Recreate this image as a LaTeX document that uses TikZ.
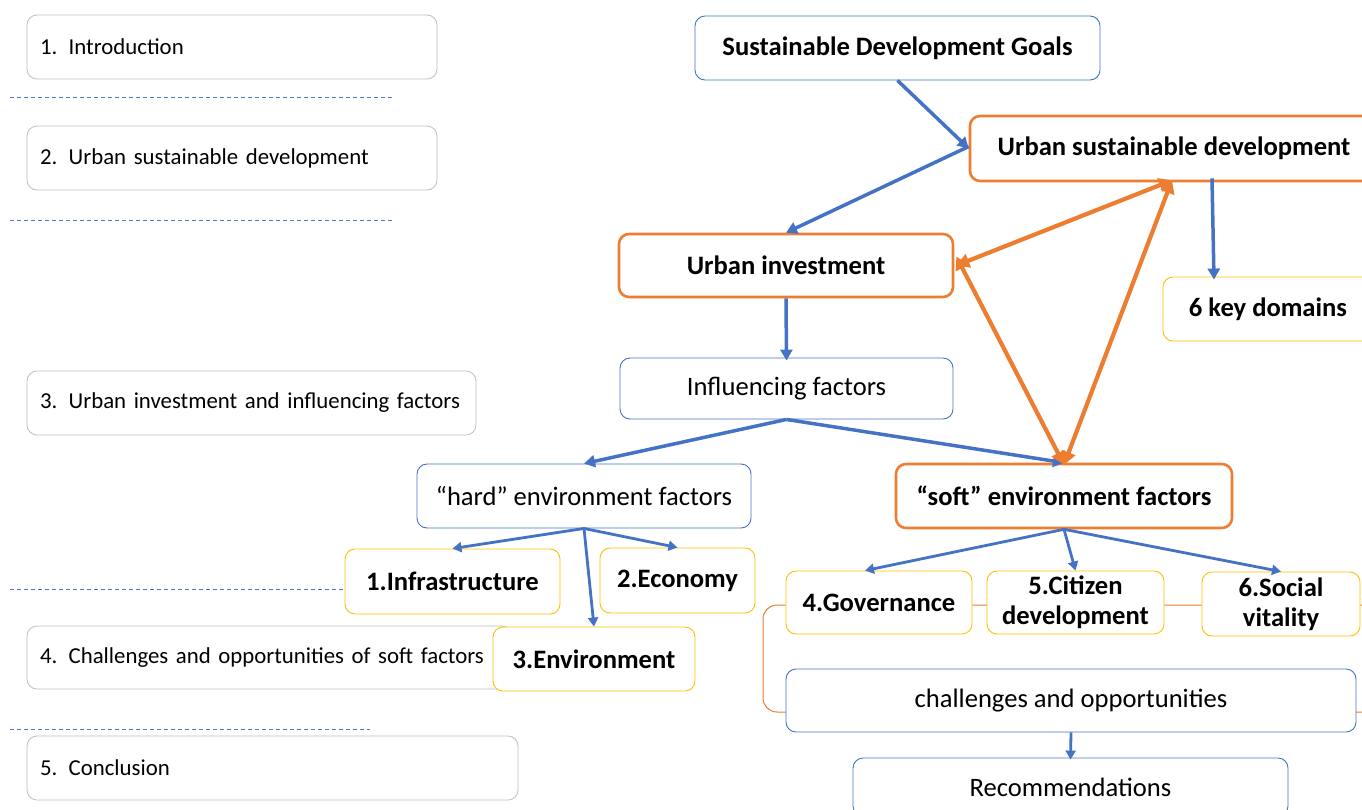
\documentclass[tikz,border=0pt]{standalone}
\usepackage{fontspec}
\setmainfont{Carlito}
\usetikzlibrary{arrows.meta}
\definecolor{cblue}{HTML}{4472C4}
\definecolor{corange}{HTML}{ED7D31}
\definecolor{cyellow}{HTML}{FFC000}
\definecolor{cgray}{HTML}{BFBFBF}
\definecolor{cdash}{HTML}{4F79C6}
\tikzset{
  base/.style={rounded corners=10pt, align=center, inner sep=0pt, fill=white, text=black},
  leftbox/.style={base, draw=cgray, line width=0.8pt, align=left, font=\fontsize{22.8}{26}\selectfont},
  bluebox/.style={base, draw=cblue, line width=0.9pt, font=\fontsize{26.6}{30}\selectfont},
  bluebold/.style={base, draw=cblue, line width=0.9pt, font=\fontsize{26.6}{30}\selectfont\bfseries},
  orangebox/.style={base, draw=corange, line width=2.6pt, font=\fontsize{26.6}{30}\selectfont\bfseries},
  yellowbox/.style={base, draw=cyellow, line width=0.9pt, font=\fontsize{26.6}{30}\selectfont\bfseries},
  sepline/.style={cdash, line width=1pt, dash pattern=on 4pt off 3pt},
  barrow/.style={cblue, line width=3.5pt, -{Triangle[length=11pt,width=12pt]}},
  carrow/.style={cblue, line width=2.8pt, -{Triangle[length=9pt,width=10pt]}},
  oarrow/.style={corange, line width=4.2pt, {Triangle[length=13pt,width=14pt]}-{Triangle[length=13pt,width=14pt]}},
}
\begin{document}
\begin{tikzpicture}[x=1pt,y=-1pt]
\useasboundingbox (0,0) rectangle (1362,809);
% left column
\node[leftbox, minimum width=410, minimum height=64, text width=384] (l1) at (232,47) {1. Introduction};
\node[leftbox, minimum width=410, minimum height=64, text width=384] (l2) at (232,158) {2. Urban sustainable development};
\node[leftbox, minimum width=449, minimum height=64, text width=423] (l3) at (251.5,403) {3. Urban investment and influencing factors};
\node[leftbox, minimum width=485, minimum height=63, text width=459] (l4) at (269.5,657.5) {4. Challenges and opportunities of soft factors};
\node[leftbox, minimum width=491, minimum height=64, text width=465] (l5) at (272.5,768) {5. Conclusion};
\draw[sepline] (10,97) -- (395,97);
\draw[sepline] (10,220) -- (395,220);
\draw[sepline] (10,589) -- (395,589);
\draw[sepline] (10,729) -- (370,729);
% orange bracket behind soft sub-factors
\draw[corange, line width=1pt, rounded corners=14pt] (763,605) rectangle (1390,712);
% right column
\node[bluebold, minimum width=405, minimum height=64] (sdg) at (897.5,48) {Sustainable Development Goals};
\node[orangebox, minimum width=408, minimum height=65] (usd) at (1174,148.5) {Urban sustainable development};
\node[yellowbox, minimum width=210, minimum height=64] (keys) at (1268,309) {6 key domains};
\node[orangebox, minimum width=334, minimum height=63] (ui) at (786,265.5) {Urban investment};
\node[bluebox, minimum width=333, minimum height=61] (inf) at (786.5,388.5) {Influencing factors};
\node[bluebox, minimum width=334, minimum height=64] (hard) at (584,496) {“hard” environment factors};
\node[orangebox, minimum width=336, minimum height=64] (soft) at (1064,496) {“soft” environment factors};
\node[yellowbox, minimum width=215, minimum height=65] (infra) at (452.5,581.5) {1.Infrastructure};
\node[yellowbox, minimum width=155, minimum height=65] (econ) at (677.5,580.5) {2.Economy};
\node[yellowbox, minimum width=202, minimum height=64] (env) at (594,659) {3.Environment};
\node[yellowbox, minimum width=186, minimum height=63] (gov) at (879,602.5) {4.Governance};
\node[yellowbox, minimum width=177, minimum height=63] (cit) at (1075.5,602.5) {5.Citizen\\development};
\node[yellowbox, minimum width=158, minimum height=64] (soc) at (1281,604) {6.Social\\vitality};
\node[bluebox, minimum width=570, minimum height=63] (chal) at (1071,700.5) {challenges and opportunities};
\node[bluebox, minimum width=435, minimum height=58] (rec) at (1070.5,787) {Recommendations};
% blue arrows
\draw[barrow] (sdg.south) -- (usd.west);
\draw[barrow] ([yshift=2pt]usd.west) -- (ui.north);
\draw[barrow] ([xshift=38pt,yshift=4pt]usd.south) -- ([xshift=-54pt,yshift=-3pt]keys.north);
\draw[barrow] (ui.south) -- ([yshift=-3pt]inf.north);
\draw[barrow] (inf.south) -- (hard.north);
\draw[barrow] (inf.south) -- (soft.north);
\draw[carrow] (hard.south) -- (infra.north);
\draw[carrow] (hard.south) -- (econ.north);
\draw[carrow] (hard.south) -- (env.north);
\draw[carrow] (soft.south) -- ([xshift=-14pt]gov.north);
\draw[carrow] (soft.south) -- (cit.north);
\draw[carrow] (soft.south) -- (soc.north);
\draw[carrow] (chal.south) -- ([yshift=-2pt]rec.north);
% orange double arrows
\draw[oarrow] ([xshift=-2pt,yshift=2pt]usd.south) -- ([xshift=2pt]ui.east);
\draw[oarrow] ([xshift=-2pt,yshift=2pt]usd.south) -- ([yshift=-2pt]soft.north);
\draw[oarrow] ([xshift=2pt,yshift=9pt]ui.east) -- ([yshift=-2pt]soft.north);
\end{tikzpicture}
\end{document}
